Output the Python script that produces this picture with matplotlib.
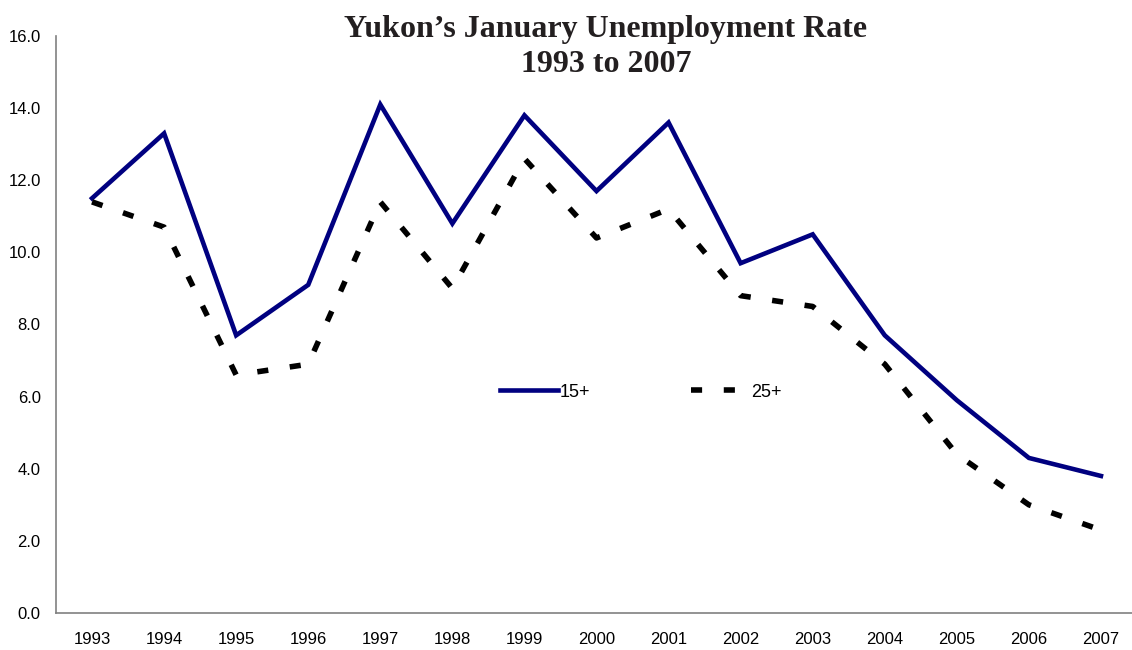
import numpy as np
from matplotlib import pyplot as plt

# Daten
years = ['1993', '1994', '1995', '1996', '1997', '1998', '1999', '2000',
         '2001', '2002', '2003', '2004', '2005', '2006', '2007']
rate_15 = [11.5, 13.3, 7.7, 9.1, 14.1, 10.8, 13.8, 11.7, 13.6, 9.7, 10.5, 7.7, 5.9, 4.3, 3.8]
rate_25 = [11.4, 10.7, 6.6, 6.9, 11.4, 9.0, 12.6, 10.4, 11.2, 8.8, 8.5, 6.9, 4.4, 3.0, 2.3]
y_ticks = [0, 2, 4, 6, 8, 10, 12, 14, 16]

fig = plt.figure(figsize=(11.32, 6.5), dpi=100)
ax = fig.add_axes([56 / 1132, 1 - 613 / 650, 1081 / 1132, 577 / 650])

x = np.arange(len(years))
ax.plot(x, rate_15, color='#000080', linewidth=3.3, solid_joinstyle='miter', label='15+')
ax.plot(x, rate_25, color='black', linewidth=4.0, dashes=(2.0, 3.9), dash_capstyle='butt',
        label='25+')

ax.set_xlim(-0.5, len(years) - 0.5)
ax.set_ylim(0, 16)
ax.set_xticks(x)
ax.set_xticklabels(years)
ax.set_yticks(y_ticks)
ax.set_yticklabels([f'{v:.1f}' for v in y_ticks])
ax.tick_params(length=0, labelsize=12)
ax.tick_params(axis='x', pad=14)
ax.tick_params(axis='y', pad=11)
for lab in ax.get_xticklabels() + ax.get_yticklabels():
    lab.set_fontfamily('Liberation Sans')

for side in ['top', 'right']:
    ax.spines[side].set_visible(False)
for side in ['left', 'bottom']:
    ax.spines[side].set_color('#808080')
    ax.spines[side].set_linewidth(1.2)

leg = ax.legend(loc='center', bbox_to_anchor=(0.541, 0.383), ncol=2, frameon=False,
                handlelength=3.2, handletextpad=0.1, columnspacing=5.6,
                prop={'family': 'Liberation Sans', 'size': 13})

# Titel in zwei Zeilen
fig.text(606 / 1132, 1 - 37 / 650, 'Yukon’s January Unemployment Rate',
         ha='center', va='baseline', fontsize=23, fontweight='bold',
         family='Liberation Serif', color='#231F20')
fig.text(606 / 1132, 1 - 72 / 650, '1993 to 2007',
         ha='center', va='baseline', fontsize=23, fontweight='bold',
         family='Liberation Serif', color='#231F20')

plt.savefig('out.png', dpi=100)
